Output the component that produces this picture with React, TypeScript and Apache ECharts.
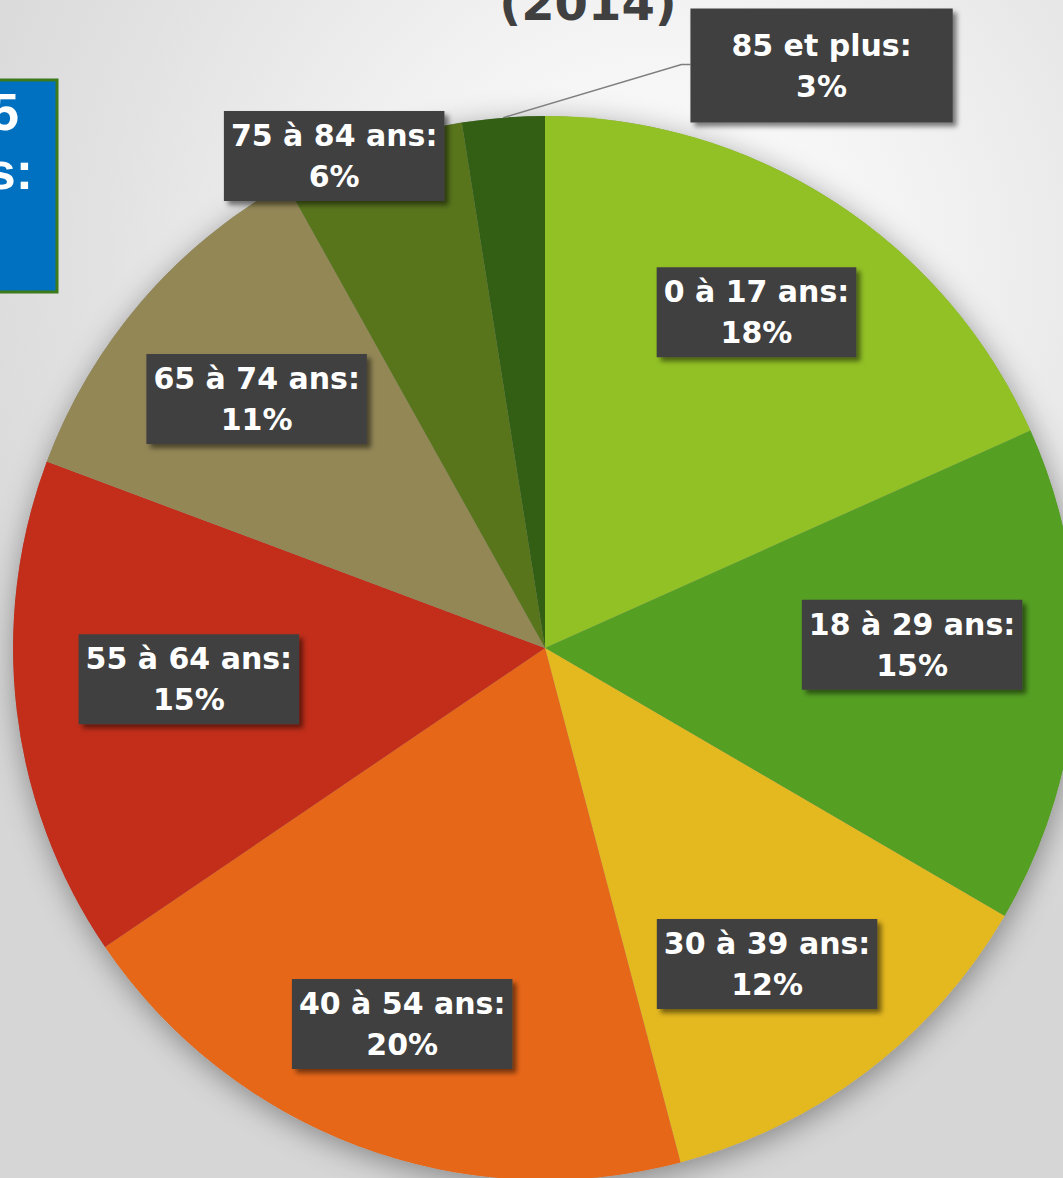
import React, { useEffect, useRef } from "react";
import * as echarts from "echarts";

const categories = ["0 à 17 ans", "18 à 29 ans", "30 à 39 ans", "40 à 54 ans", "55 à 64 ans", "65 à 74 ans", "75 à 84 ans", "85 et plus"];
const shares = [18.3, 15.1, 12.5, 19.6, 15.2, 11.2, 5.6, 2.5];
const shareLabels = [18, 15, 12, 20, 15, 11, 6, 3];
const colors = ["#92C125", "#55A023", "#E4B81F", "#E76719", "#C22E1A", "#938756", "#58751C", "#325F14"];
// label placement in polar terms relative to the pie: [radius fraction, angle clockwise from top in degrees]
const labelPolar: [number, number][] = [
  [0.746, 32.2], [0.69, 89.5], [0.726, 144.9], [0.756, 200.8],
  [0.672, 265.0], [0.716, 310.8], [1.006, 336.8], [1.212, 25.4],
];
const titleText = "(2014)";
const sideLines = ["5", "s:"];

const W = 1063, H = 1178;
const CX = 545, CY = 648, R = 532;

export default function App() {
  const ref = useRef<HTMLDivElement>(null);
  useEffect(() => {
    document.body.style.margin = "0";
    const chart = echarts.init(ref.current!, null, { renderer: "svg", width: W, height: H });
    const total = shares.reduce((a, b) => a + b, 0);
    const mids: number[] = [];
    let acc = 0;
    shares.forEach((v) => { mids.push(((acc + v / 2) / total) * 360); acc += v; });

    const baseLabel = {
      show: true,
      position: "inside",
      formatter: (p: any) => `${p.name}:\n${shareLabels[p.dataIndex]}%`,
      color: "#ffffff",
      fontFamily: "DejaVu Sans",
      fontWeight: "bold",
      fontSize: 30,
      lineHeight: 41,
      align: "center",
      backgroundColor: "#414141",
      padding: [4, 7],
      shadowBlur: 5,
      shadowOffsetX: 4,
      shadowOffsetY: 4,
      shadowColor: "rgba(0,0,0,0.5)",
    };

    const data = categories.map((name, i) => {
      const item: any = { name, value: shares[i], itemStyle: { color: colors[i] } };
      if (i === categories.length - 1) {
        item.label = { position: "outside", padding: [16, 41] };
        item.labelLine = { show: true, lineStyle: { color: "#7f7f7f", width: 1.5 } };
      }
      return item;
    });

    chart.setOption({
      animation: false,
      backgroundColor: "transparent",
      graphic: [
        {
          type: "rect",
          shape: { x: -30, y: 80, width: 87, height: 212 },
          style: { fill: "#0070C0", stroke: "#3C7A1C", lineWidth: 3 },
          z: 10,
        },
        {
          type: "text",
          style: { text: sideLines[0], x: 19, y: 138, align: "right", verticalAlign: "bottom", fill: "#ffffff", font: "bold 52px 'Liberation Sans'" },
          z: 11,
        },
        {
          type: "text",
          style: { text: sideLines[1], x: 33, y: 197, align: "right", verticalAlign: "bottom", fill: "#ffffff", font: "bold 52px 'Liberation Sans'" },
          z: 11,
        },
        {
          type: "text",
          style: { text: titleText, x: 588, y: 3, align: "center", verticalAlign: "middle", fill: "#404040", font: "bold 48px 'DejaVu Sans'" },
          z: 11,
        },
      ],
      series: [
        {
          type: "pie",
          silent: true,
          center: [CX, CY],
          radius: R,
          label: { show: false },
          labelLine: { show: false },
          itemStyle: { color: "#9a9a9a", shadowBlur: 30, shadowColor: "rgba(0,0,0,0.38)", shadowOffsetX: 2, shadowOffsetY: 6 },
          data: [{ value: 1, name: "bg" }],
          z: 1,
        },
        {
          type: "pie",
          center: [CX, CY],
          radius: R,
          startAngle: 90,
          clockwise: true,
          avoidLabelOverlap: false,
          itemStyle: { borderWidth: 0 },
          label: baseLabel,
          labelLine: { show: false },
          labelLayout: (params: any) => {
            const i = params.dataIndex;
            const [rf, ang] = labelPolar[i];
            const a = (ang * Math.PI) / 180;
            const x = CX + rf * R * Math.sin(a);
            const y = CY - rf * R * Math.cos(a);
            const out: any = { x, y, align: "center", verticalAlign: "middle" };
            if (i === categories.length - 1) {
              const m = (mids[i] * Math.PI) / 180;
              const ex = CX + R * Math.sin(m);
              const ey = CY - R * Math.cos(m);
              const left = x - params.labelRect.width / 2;
              out.labelLinePoints = [[ex, ey], [left - 9, y - 1], [left, y - 1]];
            }
            return out;
          },
          data,
          z: 2,
        },
      ],
    });
    return () => chart.dispose();
  }, []);
  return (
    <div
      ref={ref}
      style={{
        width: W,
        height: H,
        overflow: "hidden",
        background: "radial-gradient(ellipse 75% 65% at 62% 22%, #ffffff 0%, #f2f2f2 35%, #e2e2e2 70%, #d6d6d6 100%)",
      }}
    />
  );
}
